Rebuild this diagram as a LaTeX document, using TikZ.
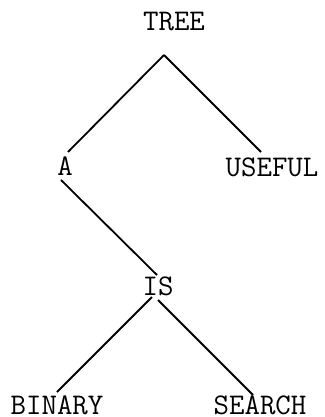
\documentclass[tikz,border=0pt]{standalone}
\begin{document}
\begin{tikzpicture}[x=1pt,y=-1pt,
  word/.style={font=\ttfamily\fontsize{30}{36}\selectfont, inner sep=0pt},
  edge/.style={line width=1.8pt}]
\useasboundingbox (0,0) rectangle (324,417);
% words
\node[word] (TREE)   at (174,22)  {TREE};
\node[word] (A)      at (65,166)  {A};
\node[word] (USEFUL) at (272,167) {USEFUL};
\node[word] (IS)     at (158,286) {IS};
\node[word] (BINARY) at (57,405)  {BINARY};
\node[word] (SEARCH) at (260,405) {SEARCH};
% connector ends
\coordinate (TREE-out) at (164,55);
\coordinate (A-in)     at (68,152);
\coordinate (USEFUL-in) at (261,152);
\coordinate (A-out)    at (61,180);
\coordinate (IS-in)    at (157,275);
\coordinate (IS-outl)  at (152,297);
\coordinate (IS-outr)  at (158,300);
\coordinate (BINARY-in) at (57,392);
\coordinate (SEARCH-in) at (253,395);
% connectors
\draw[edge] (TREE-out) -- (A-in);
\draw[edge] (TREE-out) -- (USEFUL-in);
\draw[edge] (A-out) -- (IS-in);
\draw[edge] (IS-outl) -- (BINARY-in);
\draw[edge] (IS-outr) -- (SEARCH-in);
\end{tikzpicture}
\end{document}
